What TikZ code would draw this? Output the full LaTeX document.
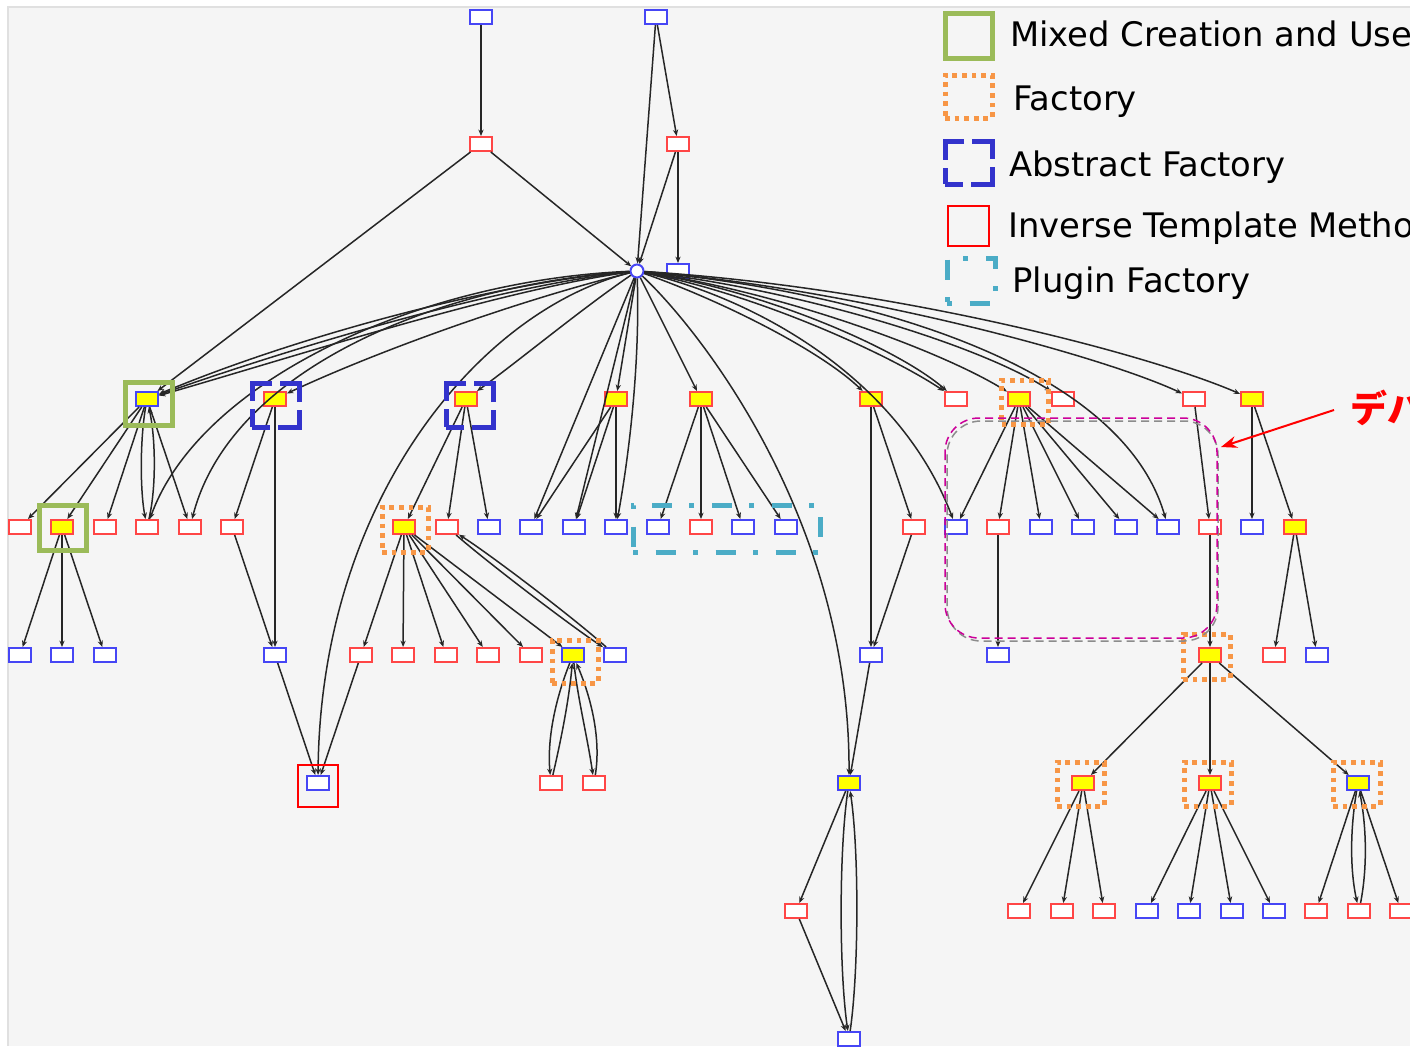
\documentclass[tikz,border=0pt]{standalone}
\usepackage{fontspec}
\newfontfamily\legendfont{DejaVu Sans}
\newfontfamily\jpfont{Noto Sans CJK JP}
\usetikzlibrary{arrows.meta}
\definecolor{bgc}{RGB}{245,245,245}
\definecolor{nblue}{RGB}{70,70,245}
\definecolor{nred}{RGB}{255,70,70}
\definecolor{nyellow}{RGB}{255,255,0}
\definecolor{frgreen}{RGB}{155,187,89}
\definecolor{frblue}{RGB}{51,51,204}
\definecolor{frorange}{RGB}{247,150,70}
\definecolor{frcyan}{RGB}{75,172,198}
\definecolor{frmag}{RGB}{204,0,153}
\begin{document}
\begin{tikzpicture}[x=0.5pt,y=-0.5pt,
  box/.style={rectangle, minimum width=11pt, minimum height=7pt, inner sep=0pt, line width=1pt, fill=white},
  bn/.style={box, draw=nblue},
  rn/.style={box, draw=nred},
  hl/.style={fill=nyellow},
  hub/.style={circle, draw=nblue, fill=white, line width=1pt, minimum size=6.5pt, inner sep=0pt},
  lnk/.style={draw=black!85, line width=0.75pt, -{Stealth[length=3.2pt,width=2.6pt]}},
  frame/.style={rectangle, inner sep=0pt, line width=2.5pt, fill=none},
  mixed/.style={frame, draw=frgreen},
  absf/.style={frame, draw=frblue, dash pattern=on 19pt off 4pt, dash phase=10pt},
  fact/.style={frame, draw=frorange, dash pattern=on 2.4pt off 2.4pt},
  plug/.style={frame, draw=frcyan, dash pattern=on 2.5pt off 8.75pt on 10pt off 8.75pt},
  itm/.style={frame, draw=red, line width=1pt},
  legtext/.style={anchor=base west, inner sep=0pt, font=\legendfont\fontsize{16.9pt}{18pt}\selectfont}
]
\useasboundingbox (0,0) rectangle (1410,1046);
\fill[white] (0,0) rectangle (1410,1046);
\fill[bgc] (8,7) rectangle (1410,1046);
\draw[black!12, line width=0.6pt] (8,1046) -- (8,7) -- (1410,7);

% ---------- graph nodes ----------
\node[bn] (A0) at (481,17) {};
\node[bn] (B0) at (656,17) {};
\node[rn] (A1) at (481,144) {};
\node[rn] (B1) at (678,144) {};
\node[hub] (H) at (637,271) {};
\node[bn] (C2) at (678,271) {};

\node[bn,hl] (n1) at (147,399) {};
\node[rn,hl] (n2) at (275,399) {};
\node[rn,hl] (n3) at (466,399) {};
\node[rn,hl] (n4) at (616,399) {};
\node[rn,hl] (n5) at (701,399) {};
\node[rn,hl] (n6) at (871,399) {};
\node[rn] (n7) at (956,399) {};
\node[rn,hl] (n8) at (1019,399) {};
\node[rn] (n9) at (1063,399) {};
\node[rn] (n10) at (1194,399) {};
\node[rn,hl] (n11) at (1252,399) {};

\node[rn] (m1) at (20,527) {};
\node[rn,hl] (m2) at (62,527) {};
\node[rn] (m3) at (105,527) {};
\node[rn] (m4) at (147,527) {};
\node[rn] (m5) at (190,527) {};
\node[rn] (m6) at (232,527) {};
\node[rn,hl] (m7) at (404,527) {};
\node[rn] (m8) at (447,527) {};
\node[bn] (m9) at (489,527) {};
\node[bn] (m10) at (531,527) {};
\node[bn] (m11) at (574,527) {};
\node[bn] (m12) at (616,527) {};
\node[bn] (m13) at (658,527) {};
\node[rn] (m14) at (701,527) {};
\node[bn] (m15) at (743,527) {};
\node[bn] (m16) at (786,527) {};
\node[rn] (m17) at (914,527) {};
\node[bn] (m18) at (956,527) {};
\node[rn] (m19) at (998,527) {};
\node[bn] (m20) at (1041,527) {};
\node[bn] (m21) at (1083,527) {};
\node[bn] (m22) at (1126,527) {};
\node[bn] (m23) at (1168,527) {};
\node[rn] (m24) at (1210,527) {};
\node[bn] (m25) at (1252,527) {};
\node[rn,hl] (m26) at (1295,527) {};

\node[bn] (p1) at (20,655) {};
\node[bn] (p2) at (62,655) {};
\node[bn] (p3) at (105,655) {};
\node[bn] (p4) at (275,655) {};
\node[rn] (p5) at (361,655) {};
\node[rn] (p6) at (403,655) {};
\node[rn] (p7) at (446,655) {};
\node[rn] (p8) at (488,655) {};
\node[rn] (p9) at (531,655) {};
\node[bn,hl] (p10) at (573,655) {};
\node[bn] (p11) at (615,655) {};
\node[bn] (p12) at (871,655) {};
\node[bn] (p13) at (998,655) {};
\node[rn,hl] (p14) at (1210,655) {};
\node[rn] (p15) at (1274,655) {};
\node[bn] (p16) at (1317,655) {};

\node[bn] (q1) at (318,783) {};
\node[rn] (q2) at (551,783) {};
\node[rn] (q3) at (594,783) {};
\node[bn,hl] (q4) at (849,783) {};
\node[rn,hl] (q5) at (1083,783) {};
\node[rn,hl] (q6) at (1210,783) {};
\node[bn,hl] (q7) at (1358,783) {};

\node[rn] (r1) at (796,911) {};
\node[rn] (r2) at (1019,911) {};
\node[rn] (r3) at (1062,911) {};
\node[rn] (r4) at (1104,911) {};
\node[bn] (r5) at (1147,911) {};
\node[bn] (r6) at (1189,911) {};
\node[bn] (r7) at (1232,911) {};
\node[bn] (r8) at (1274,911) {};
\node[rn] (r9) at (1316,911) {};
\node[rn] (r10) at (1359,911) {};
\node[rn] (r11) at (1401,911) {};

\node[bn] (s1) at (849,1039) {};

% ---------- connectors ----------
\draw[lnk] (A0) -- (A1);
\draw[lnk] (A1) -- (n1);
\draw[lnk] (A1) -- (H);
\draw[lnk] (B0) -- (H);
\draw[lnk] (B0) -- (B1);
\draw[lnk] (B1) -- (H);
\draw[lnk] (B1) -- (C2);

% hub fan, left side
\draw[lnk] (H) .. controls (500,282) and (300,335) .. (n1);
\draw[lnk] (H) .. controls (500,286) and (300,345) .. (n1);
\draw[lnk] (H) .. controls (500,290) and (300,355) .. (n1);
\draw[lnk] (H) .. controls (420,280) and (200,380) .. (m4);
\draw[lnk] (H) .. controls (430,286) and (230,372) .. (m5);
\draw[lnk] (H) .. controls (520,300) and (380,350) .. (n2);
\draw[lnk] (H) .. controls (480,310) and (320,500) .. (q1);
\draw[lnk] (H) .. controls (580,310) and (520,360) .. (n3);
% hub fan, downwards
\draw[lnk] (H) -- (n4);
\draw[lnk] (H) -- (m10);
\draw[lnk] (H) -- (m11);
\draw[lnk] (H) .. controls (640,360) and (630,450) .. (m12);
\draw[lnk] (H) -- (n5);
\draw[lnk] (H) .. controls (700,330) and (850,520) .. (q4);
% hub fan, right side
\draw[lnk] (H) .. controls (720,300) and (820,350) .. (n6);
\draw[lnk] (H) .. controls (760,300) and (900,380) .. (m18);
\draw[lnk] (H) .. controls (760,295) and (890,355) .. (n7);
\draw[lnk] (H) .. controls (770,292) and (900,350) .. (n7);
\draw[lnk] (H) .. controls (780,292) and (940,350) .. (n8);
\draw[lnk] (H) .. controls (800,290) and (980,345) .. (n9);
\draw[lnk] (H) .. controls (850,290) and (1120,360) .. (m23);
\draw[lnk] (H) .. controls (850,288) and (1100,355) .. (n10);
\draw[lnk] (H) .. controls (900,288) and (1150,355) .. (n11);

% left subtree
\foreach \t in {m1,m2,m3,m5} \draw[lnk] (n1) -- (\t);
\draw[lnk] (n1) .. controls (140,440) and (140,490) .. (m4);
\draw[lnk] (m4) .. controls (156,490) and (156,440) .. (n1);
\foreach \t in {p1,p2,p3} \draw[lnk] (m2) -- (\t);
\draw[lnk] (n2) -- (m6);
\draw[lnk] (n2) -- (p4);
\draw[lnk] (m6) -- (p4);
\draw[lnk] (p4) -- (q1);
\draw[lnk] (p5) -- (q1);
\foreach \t in {m7,m8,m9} \draw[lnk] (n3) -- (\t);
\foreach \t in {p5,p6,p7,p8,p9,p10} \draw[lnk] (m7) -- (\t);
\draw[lnk] (m8) .. controls (487,562) and (571,626) .. (p11);
\draw[lnk] (p11) .. controls (575,619) and (491,555) .. (m8);
\draw[lnk] (p10) .. controls (555,700) and (547,740) .. (q2);
\draw[lnk] (q2) .. controls (561,740) and (569,700) .. (p10);
\draw[lnk] (p10) .. controls (578,700) and (588,740) .. (q3);
\draw[lnk] (q3) .. controls (601,740) and (592,700) .. (p10);

% middle subtrees
\foreach \t in {m10,m11,m12} \draw[lnk] (n4) -- (\t);
\foreach \t in {m13,m14,m15,m16} \draw[lnk] (n5) -- (\t);
\draw[lnk] (n6) -- (p12);
\draw[lnk] (n6) -- (m17);
\draw[lnk] (m17) -- (p12);
\draw[lnk] (p12) -- (q4);
\draw[lnk] (q4) -- (r1);
\draw[lnk] (r1) -- (s1);
\draw[lnk] (q4) .. controls (839,850) and (839,970) .. (s1);
\draw[lnk] (s1) .. controls (859,970) and (859,850) .. (q4);

% right subtrees
\foreach \t in {m18,m19,m20,m21,m22,m23} \draw[lnk] (n8) -- (\t);
\draw[lnk] (m19) -- (p13);
\draw[lnk] (n10) -- (m24);
\draw[lnk] (m24) -- (p14);
\draw[lnk] (n11) -- (m25);
\draw[lnk] (n11) -- (m26);
\draw[lnk] (m26) -- (p15);
\draw[lnk] (m26) -- (p16);
\foreach \t in {q5,q6,q7} \draw[lnk] (p14) -- (\t);
\foreach \t in {r2,r3,r4} \draw[lnk] (q5) -- (\t);
\foreach \t in {r5,r6,r7,r8} \draw[lnk] (q6) -- (\t);
\draw[lnk] (q7) -- (r9);
\draw[lnk] (q7) -- (r11);
\draw[lnk] (q7) .. controls (1350,830) and (1350,870) .. (r10);
\draw[lnk] (r10) .. controls (1367,870) and (1367,830) .. (q7);

% ---------- pattern frames ----------
\node[mixed, minimum width=23.5pt, minimum height=21.5pt] (g1) at (148.5,403.5) {};
\node[mixed, minimum width=23.5pt, minimum height=22.5pt] (g2) at (62.5,527.5) {};
\node[absf, minimum width=23.5pt, minimum height=22pt] (ab1) at (275.5,405) {};
\node[absf, minimum width=23.5pt, minimum height=22pt] (ab2) at (469.5,405) {};
\node[fact, minimum width=23pt, minimum height=22.5pt] (f1) at (405,529.5) {};
\node[fact, minimum width=23pt, minimum height=21.5pt] (f2) at (575,661.5) {};
\node[fact, minimum width=23.5pt, minimum height=22pt] (f3) at (1025,402) {};
\node[fact, minimum width=23.5pt, minimum height=22.5pt] (f4) at (1206.5,656.5) {};
\node[fact, minimum width=23.5pt, minimum height=22pt] (f5) at (1080.5,784) {};
\node[fact, minimum width=23.5pt, minimum height=22pt] (f6) at (1207.5,784) {};
\node[fact, minimum width=23.5pt, minimum height=22pt] (f7) at (1356.5,784) {};
\node[plug, minimum width=93.5pt, minimum height=23.5pt] (pl1) at (726.5,528.5) {};
\node[itm, minimum width=20pt, minimum height=21pt] (it1) at (318,786) {};

% highlighted region with offset shadow outline
\draw[black!45, line width=0.75pt, dash pattern=on 4pt off 2.5pt, rounded corners=17pt] (947,421) rectangle (1218,641);
\draw[frmag, line width=0.75pt, dash pattern=on 4pt off 2.5pt, rounded corners=17pt] (945,418) rectangle (1217,638);

% ---------- annotation ----------
\coordinate (arrS) at (1334,410);
\coordinate (arrE) at (1221,447);
\draw[red, line width=1pt, -{Stealth[length=8pt,width=6pt]}] (arrS) -- (arrE);
\node[anchor=base west, inner sep=0pt, text=red, font=\jpfont\bfseries\fontsize{18.5pt}{20pt}\selectfont] (jp) at (1350,422) {デバ};

% ---------- legend ----------
\node[mixed, minimum width=23.5pt, minimum height=22.5pt] (lg1) at (968.5,35.5) {};
\node[fact, minimum width=23.5pt, minimum height=21.5pt] (lg2) at (968.5,96.5) {};
\node[absf, minimum width=23.5pt, minimum height=21.5pt] (lg3) at (968.5,162.5) {};
\node[itm, minimum width=20.5pt, minimum height=20pt] (lg4) at (968.5,226) {};
\node[plug, minimum width=24pt, minimum height=22.5pt] (lg5) at (971,280.5) {};
\node[legtext] (lt1) at (1010,46) {Mixed Creation and Use};
\node[legtext] (lt2) at (1013,110) {Factory};
\node[legtext] (lt3) at (1009,176) {Abstract Factory};
\node[legtext] (lt4) at (1008,237) {Inverse Template Method};
\node[legtext] (lt5) at (1012,292) {Plugin Factory};
\end{tikzpicture}
\end{document}
